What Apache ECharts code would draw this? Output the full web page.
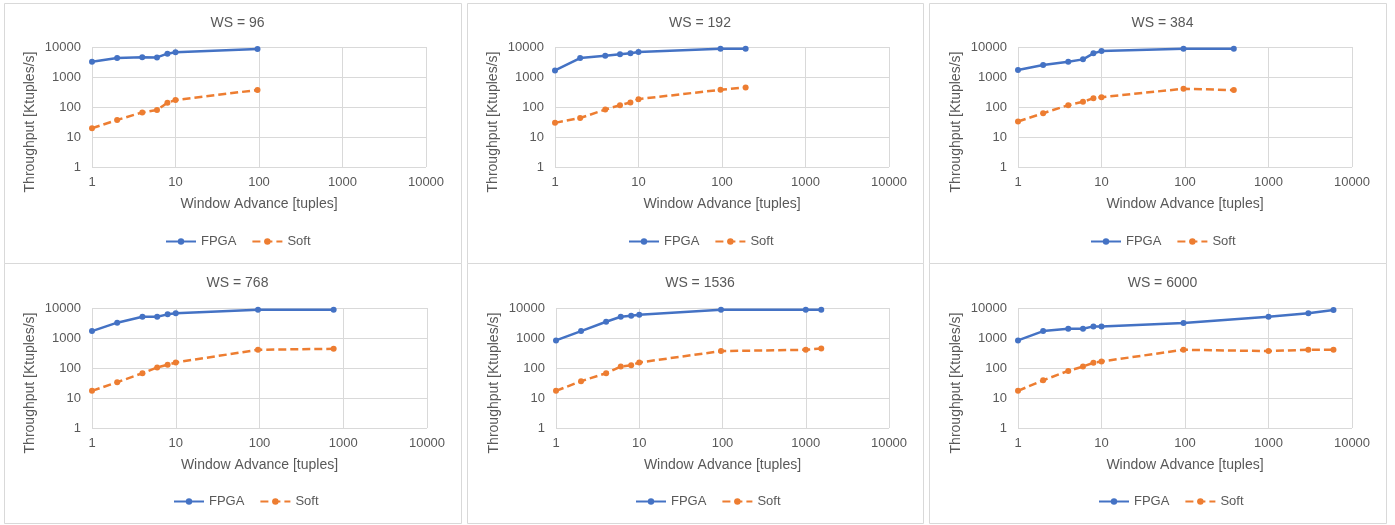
<!DOCTYPE html>
<html>
<head>
<meta charset="utf-8">
<script src="https://cdn.jsdelivr.net/npm/echarts@6/dist/echarts.min.js"></script>
<style>
html,body{margin:0;padding:0;background:#fff;}
#chart{width:1395px;height:525px;}
</style>
</head>
<body>
<div id="chart"></div>
<script>
// ---- data ----
const titles = ['WS = 96', 'WS = 192', 'WS = 384', 'WS = 768', 'WS = 1536', 'WS = 6000'];
const seriesNames = ['FPGA', 'Soft'];
const axisTicks = [1, 10, 100, 1000, 10000];

const xWS96 = [1, 2, 4, 6, 8, 10, 96];
const fpgaWS96 = [3250, 4300, 4530, 4500, 6000, 6640, 8580];
const softWS96 = [19.5, 37, 66, 79, 139, 171, 369];

const xWS192 = [1, 2, 4, 6, 8, 10, 96, 192];
const fpgaWS192 = [1660, 4290, 5130, 5690, 6140, 6810, 8800, 8800];
const softWS192 = [29.6, 43, 82, 115, 141, 183, 375, 449];

const xWS384 = [1, 2, 4, 6, 8, 10, 96, 384];
const fpgaWS384 = [1700, 2500, 3240, 3870, 6140, 7350, 8800, 8800];
const softWS384 = [33, 62, 115, 149, 197, 213, 405, 366];

const xWS768 = [1, 2, 4, 6, 8, 10, 96, 768];
const fpgaWS768 = [1700, 3240, 5130, 5130, 6140, 6640, 8800, 8800];
const softWS768 = [17.3, 33.6, 67, 104, 128, 153, 405, 437];

const xWS1536 = [1, 2, 4, 6, 8, 10, 96, 1000, 1536];
const fpgaWS1536 = [830, 1700, 3490, 5130, 5540, 5990, 8800, 8800, 8800];
const softWS1536 = [17.3, 36.3, 67, 112, 124, 153, 366, 405, 449];

const xWS6000 = [1, 2, 4, 6, 8, 10, 96, 1000, 3000, 6000];
const fpgaWS6000 = [830, 1700, 2040, 2040, 2440, 2440, 3150, 5130, 6640, 8580];
const softWS6000 = [17.3, 39, 80, 112, 149, 165, 405, 366, 405, 405];

const panelX = [xWS96, xWS192, xWS384, xWS768, xWS1536, xWS6000];
const panelFpga = [fpgaWS96, fpgaWS192, fpgaWS384, fpgaWS768, fpgaWS1536, fpgaWS6000];
const panelSoft = [softWS96, softWS192, softWS384, softWS768, softWS1536, softWS6000];

// ---- layout ----
const FONT = "'Liberation Sans', Arial, sans-serif";
const TXT = '#595959';
const GRID_C = '#D9D9D9';
const BLUE = '#4472C4';
const ORANGE = '#ED7D31';

const panels = [
  {bx: 4, by: 3, bw: 457, bh: 260, gl: 92, gt: 47, gw: 334, gh: 120, leg: 165},
  {bx: 467, by: 3, bw: 456, bh: 260, gl: 555, gt: 47, gw: 334, gh: 120, leg: 628},
  {bx: 929, by: 3, bw: 457, bh: 260, gl: 1018, gt: 47, gw: 334, gh: 120, leg: 1090},
  {bx: 4, by: 263, bw: 457, bh: 260, gl: 92, gt: 308, gw: 335, gh: 120, leg: 173},
  {bx: 467, by: 263, bw: 456, bh: 260, gl: 556, gt: 308, gw: 333, gh: 120, leg: 635},
  {bx: 929, by: 263, bw: 457, bh: 260, gl: 1018, gt: 308, gw: 334, gh: 120, leg: 1098}
];

const fmt = v => String(Math.round(v));

const option = {
  animation: false,
  backgroundColor: '#fff',
  textStyle: {fontFamily: FONT},
  title: [], legend: [], grid: [], xAxis: [], yAxis: [], series: [], graphic: []
};

panels.forEach((p, i) => {
  option.graphic.push({
    type: 'rect', silent: true, z: -1,
    shape: {x: p.bx + 0.5, y: p.by + 0.5, width: p.bw, height: p.bh},
    style: {fill: '#fff', stroke: GRID_C, lineWidth: 1}
  });
  option.title.push({
    text: titles[i], left: p.bx + p.bw / 2, textAlign: 'center', top: p.by + 8,
    textStyle: {fontSize: 14, fontWeight: 'normal', color: TXT, fontFamily: FONT}
  });
  option.legend.push({
    data: seriesNames, left: p.leg - 5, top: p.by + 227,
    itemWidth: 30, itemHeight: 8, itemGap: 15,
    textStyle: {fontSize: 13, color: TXT, fontFamily: FONT}
  });
  option.grid.push({left: p.gl, top: p.gt, width: p.gw, height: p.gh});
  option.xAxis.push({
    type: 'log', logBase: 10, min: axisTicks[0], max: axisTicks[axisTicks.length - 1], gridIndex: i,
    name: 'Window Advance [tuples]', nameLocation: 'middle', nameGap: 30,
    nameTextStyle: {fontSize: 14, color: TXT, fontFamily: FONT},
    axisLine: {show: false}, axisTick: {show: false},
    axisLabel: {fontSize: 13, color: TXT, margin: 9, formatter: fmt, fontFamily: FONT},
    splitLine: {show: true, lineStyle: {color: GRID_C, width: 1}}
  });
  option.yAxis.push({
    type: 'log', logBase: 10, min: axisTicks[0], max: axisTicks[axisTicks.length - 1], gridIndex: i,
    name: 'Throughput [Ktuples/s]', nameLocation: 'middle', nameGap: 55, nameRotate: 90,
    nameTextStyle: {fontSize: 14, color: TXT, fontFamily: FONT, padding: [0, 30, 0, 0]},
    axisLine: {show: false}, axisTick: {show: false},
    axisLabel: {fontSize: 13, color: TXT, margin: 11, formatter: fmt, fontFamily: FONT},
    splitLine: {show: true, lineStyle: {color: GRID_C, width: 1}}
  });
  const xs = panelX[i];
  option.series.push({
    name: 'FPGA', type: 'line', xAxisIndex: i, yAxisIndex: i,
    data: xs.map((x, k) => [x, panelFpga[i][k]]),
    symbol: 'circle', symbolSize: 6, color: BLUE,
    lineStyle: {color: BLUE, width: 2.5},
    itemStyle: {color: BLUE}
  });
  option.series.push({
    name: 'Soft', type: 'line', xAxisIndex: i, yAxisIndex: i,
    data: xs.map((x, k) => [x, panelSoft[i][k]]),
    symbol: 'circle', symbolSize: 6, color: ORANGE,
    lineStyle: {color: ORANGE, width: 2.5, type: [8, 4]},
    itemStyle: {color: ORANGE}
  });
});

const chart = echarts.init(document.getElementById('chart'), null, {renderer: 'canvas'});
chart.setOption(option);
</script>
</body>
</html>
